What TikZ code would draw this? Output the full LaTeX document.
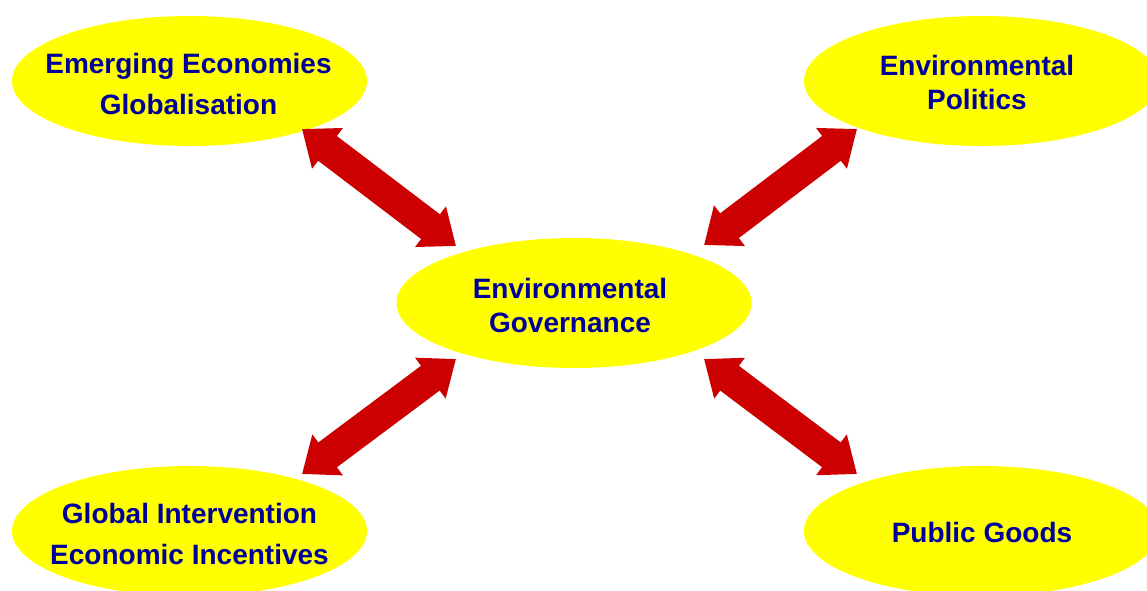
\documentclass[tikz,border=0pt]{standalone}
\usepackage{fontspec}
\setmainfont{Liberation Sans}
\usetikzlibrary{shapes.geometric,arrows.meta}
\definecolor{bubblefill}{RGB}{255,255,0}
\definecolor{txtblue}{RGB}{0,0,153}
\definecolor{arrowred}{RGB}{204,0,0}
\begin{document}
\begin{tikzpicture}[x=0.5pt,y=-0.5pt,
  bubble/.style={ellipse,fill=bubblefill,draw=none,minimum width=177.5pt,minimum height=65pt,inner sep=0pt},
  widetext/.style={font=\fontsize{14}{20.5}\selectfont\bfseries,text=txtblue,align=center,inner sep=0pt},
  narrowtext/.style={font=\fontsize{14}{17}\selectfont\bfseries,text=txtblue,align=center,inner sep=0pt},
  link/.style={arrowred,line width=15.5pt,{Triangle[length=16pt,width=24.5pt]}-{Triangle[length=16pt,width=24.5pt]}}]
\useasboundingbox (0,0) rectangle (1147,590);
\clip (0,0) rectangle (1147,590);
% bubbles
\node[bubble] (tl) at (189.5,81) {};
\node[bubble] (tr) at (981.5,81) {};
\node[bubble] (c) at (574,303) {};
\node[bubble] (bl) at (189.5,531) {};
\node[bubble] (br) at (981.5,531) {};
% texts
\node[widetext] (tlt) at (188.5,83.5) {Emerging Economies\\Globalisation};
\node[narrowtext] (trt) at (977,82.5) {Environmental\\Politics};
\node[narrowtext] (ct) at (570,305.5) {Environmental\\Governance};
\node[widetext] (blt) at (189.5,533.5) {Global Intervention\\Economic Incentives};
\node[narrowtext] (brt) at (982,532.5) {Public Goods};
% arrow ends
\coordinate (a1s) at (302,129); \coordinate (a1e) at (456,246);
\coordinate (a2s) at (704,245); \coordinate (a2e) at (857,129);
\coordinate (a3s) at (302,474); \coordinate (a3e) at (456,359);
\coordinate (a4s) at (704,359); \coordinate (a4e) at (857,474);
\draw[link] (a1s) -- (a1e);
\draw[link] (a2s) -- (a2e);
\draw[link] (a3s) -- (a3e);
\draw[link] (a4s) -- (a4e);
\end{tikzpicture}
\end{document}
